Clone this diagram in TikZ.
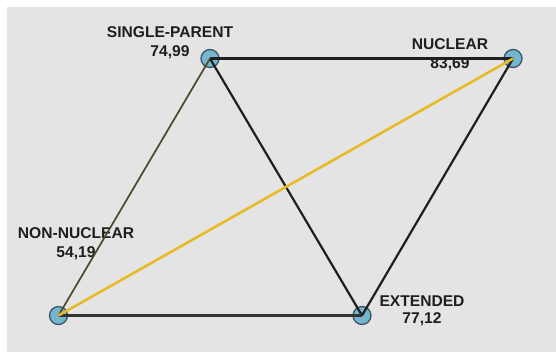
\documentclass[tikz,border=0pt]{standalone}
\usepackage{fontspec}
\setmainfont{Liberation Sans}
\usetikzlibrary{positioning}

\definecolor{bg}{HTML}{E4E4E4}
\definecolor{vtx}{HTML}{74B6D0}
\definecolor{vtxline}{HTML}{3A5563}
\definecolor{gold}{HTML}{E8B923}
\definecolor{olive}{HTML}{4F4728}
\definecolor{ink}{HTML}{1E1E1E}

\begin{document}
\begin{tikzpicture}[
  x=1pt, y=-1pt,
  vx/.style  ={circle,draw=vtxline,fill=vtx,line width=1.3pt,minimum size=18pt,inner sep=0},
  lab/.style ={font=\bfseries\fontsize{15.6}{19}\selectfont,text=ink,align=center,inner sep=0,anchor=north},
  ed/.style  ={draw=black!88,line width=2.2pt},
  edy/.style ={draw=gold,line width=2.5pt},
  edo/.style ={draw=olive,line width=1.7pt},
]
\useasboundingbox (0,0) rectangle (556,360);
\fill[white] (0,0) rectangle (556,360);
\fill[bg] (7,7) rectangle (556,352);

% ----------------------------------------------------------- the four types
\node[vx] (sp)  at (210, 58.5) {};
\node[vx] (nuc) at (513, 58.5) {};
\node[vx] (nn)  at (58.5, 315.5) {};
\node[vx] (ext) at (362, 315.5) {};

\node[lab] (lsp)  at (170, 26.5) {SINGLE-PARENT\\74,99};
\node[lab] (lnuc) at (450, 38)   {NUCLEAR\\83,69};
\node[lab] (lnn)  at (76, 227.5) {NON-NUCLEAR\\54,19};
\node[lab] (lext) at (422, 296)  {EXTENDED\\[-2.5pt]77,12};

% ----------------------------------------------------------- links
\draw[ed]  (sp.center) -- (nuc.center);
\draw[ed]  (sp.center) -- (ext.center);
\draw[ed]  (nuc.center) -- (ext.center);
\draw[ed,draw=black!80,line width=2.5pt] (nn.center) -- (ext.center);
\draw[edo] (nn.center) -- (sp.center);
\draw[edy] (nn.center) -- (nuc.center);

\end{tikzpicture}
\end{document}
